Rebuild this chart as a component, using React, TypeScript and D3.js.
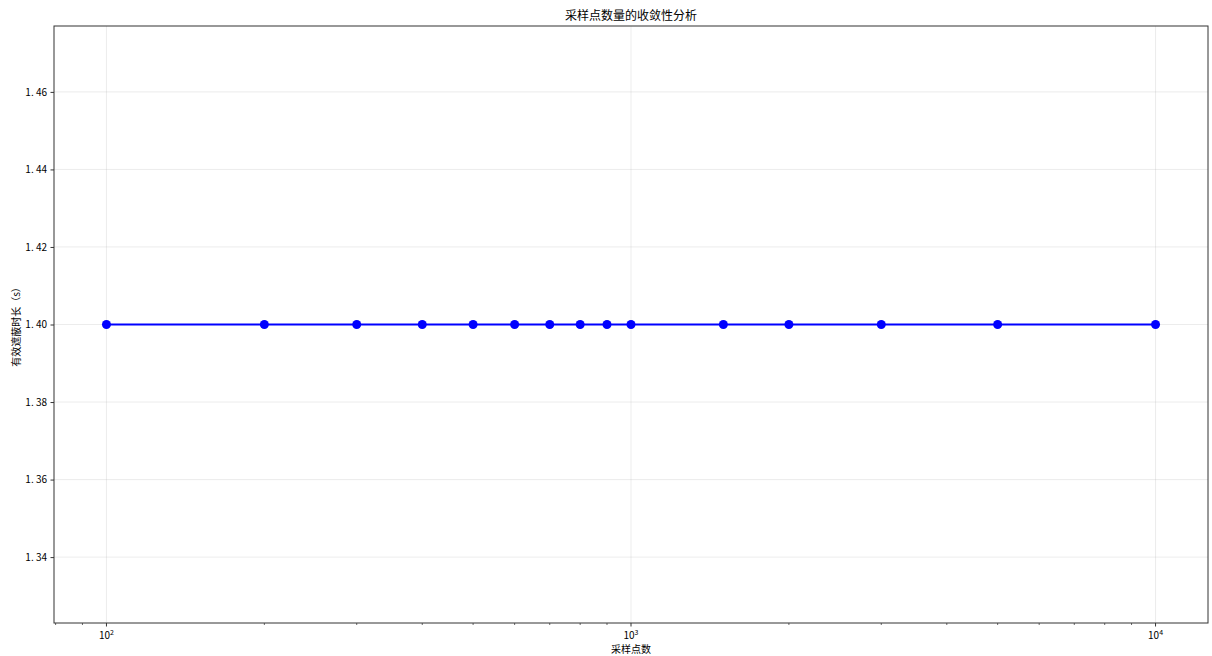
import * as d3 from "d3";
import { useEffect, useRef } from "react";

const width = 1212;
const height = 656;
const margin = { top: 26, right: 4, bottom: 33, left: 54 };

const samplePoints = [100, 200, 300, 400, 500, 600, 700, 800, 900, 1000, 1500, 2000, 3000, 5000, 10000];
const durations = [1.4, 1.4, 1.4, 1.4, 1.4, 1.4, 1.4, 1.4, 1.4, 1.4, 1.4, 1.4, 1.4, 1.4, 1.4];
const yTicks = [1.34, 1.36, 1.38, 1.4, 1.42, 1.44, 1.46];
const xMajor = [100, 1000, 10000];

const font = "'Noto Sans CJK SC', 'DejaVu Sans', sans-serif";

const App = () => {
  const ref = useRef<SVGSVGElement>(null);

  useEffect(() => {
    const svg = d3.select(ref.current);
    svg.selectAll("*").remove();

    const iw = width - margin.left - margin.right;
    const ih = height - margin.top - margin.bottom;

    const x = d3.scaleLog().domain([Math.pow(10, 1.9), Math.pow(10, 4.1)]).range([0, iw]);
    const y = d3.scaleLinear().domain([1.323, 1.477]).range([ih, 0]);

    const g = svg.append("g").attr("transform", `translate(${margin.left},${margin.top})`);

    // grid
    g.selectAll(".gx")
      .data(xMajor)
      .enter()
      .append("line")
      .attr("x1", (d) => x(d))
      .attr("x2", (d) => x(d))
      .attr("y1", 0)
      .attr("y2", ih)
      .attr("stroke", "#b0b0b0")
      .attr("stroke-opacity", 0.3)
      .attr("stroke-width", 0.8);
    g.selectAll(".gy")
      .data(yTicks)
      .enter()
      .append("line")
      .attr("x1", 0)
      .attr("x2", iw)
      .attr("y1", (d) => y(d))
      .attr("y2", (d) => y(d))
      .attr("stroke", "#b0b0b0")
      .attr("stroke-opacity", 0.3)
      .attr("stroke-width", 0.8);

    // line + markers
    const line = d3
      .line<number>()
      .x((d, i) => x(samplePoints[i]))
      .y((d) => y(d));
    g.append("path")
      .datum(durations)
      .attr("d", line)
      .attr("fill", "none")
      .attr("stroke", "blue")
      .attr("stroke-width", 2);
    g.selectAll(".pt")
      .data(durations)
      .enter()
      .append("circle")
      .attr("cx", (d, i) => x(samplePoints[i]))
      .attr("cy", (d) => y(d))
      .attr("r", 4.5)
      .attr("fill", "blue");

    // y axis
    const yAxis = d3.axisLeft(y).tickValues(yTicks).tickSize(3.5).tickPadding(3.5).tickFormat((d) => d3.format(".2f")(d as number).replace(".", ". "));
    const ya = g.append("g").call(yAxis);
    ya.select(".domain").remove();
    ya.selectAll("text").attr("font-family", font).attr("font-size", 10).attr("fill", "#000");
    ya.selectAll("line").attr("stroke", "#000").attr("stroke-width", 0.8);

    // x axis minor ticks
    const minor: number[] = [];
    [10, 100, 1000, 10000].forEach((dec) => {
      for (let k = 2; k <= 9; k++) {
        const v = dec * k;
        if (v > x.domain()[0] && v < x.domain()[1]) minor.push(v);
      }
    });
    const xa = g.append("g").attr("transform", `translate(0,${ih})`);
    xa.selectAll(".mn")
      .data(minor)
      .enter()
      .append("line")
      .attr("x1", (d) => x(d))
      .attr("x2", (d) => x(d))
      .attr("y1", 0)
      .attr("y2", 2)
      .attr("stroke", "#000")
      .attr("stroke-width", 0.6);
    const mj = xa.selectAll(".mj").data(xMajor).enter().append("g").attr("transform", (d) => `translate(${x(d)},0)`);
    mj.append("line").attr("y1", 0).attr("y2", 3.5).attr("stroke", "#000").attr("stroke-width", 0.8);
    const t = mj
      .append("text")
      .attr("y", 16)
      .attr("text-anchor", "middle")
      .attr("font-family", font)
      .attr("font-size", 10)
      .attr("fill", "#000");
    t.append("tspan").text("10");
    t.append("tspan")
      .attr("dy", -4)
      .attr("font-size", 7)
      .text((d) => String(Math.round(Math.log10(d))));

    // frame
    g.append("rect")
      .attr("width", iw)
      .attr("height", ih)
      .attr("fill", "none")
      .attr("stroke", "#333")
      .attr("stroke-width", 1);

    // labels
    svg
      .append("text")
      .attr("x", margin.left + iw / 2)
      .attr("y", 20)
      .attr("text-anchor", "middle")
      .attr("font-family", font)
      .attr("font-size", 12)
      .text("采样点数量的收敛性分析");
    svg
      .append("text")
      .attr("x", margin.left + iw / 2)
      .attr("y", 653)
      .attr("text-anchor", "middle")
      .attr("font-family", font)
      .attr("font-size", 10)
      .text("采样点数");
    svg
      .append("text")
      .attr("transform", `translate(20,${margin.top + ih / 2}) rotate(-90)`)
      .attr("text-anchor", "middle")
      .attr("font-family", font)
      .attr("font-size", 10)
      .text("有效遮蔽时长（s）");
  }, []);

  return (
    <svg
      ref={ref}
      width={width}
      height={height}
      style={{ position: "absolute", left: 0, top: 0, background: "#fff" }}
    />
  );
};

export default App;
